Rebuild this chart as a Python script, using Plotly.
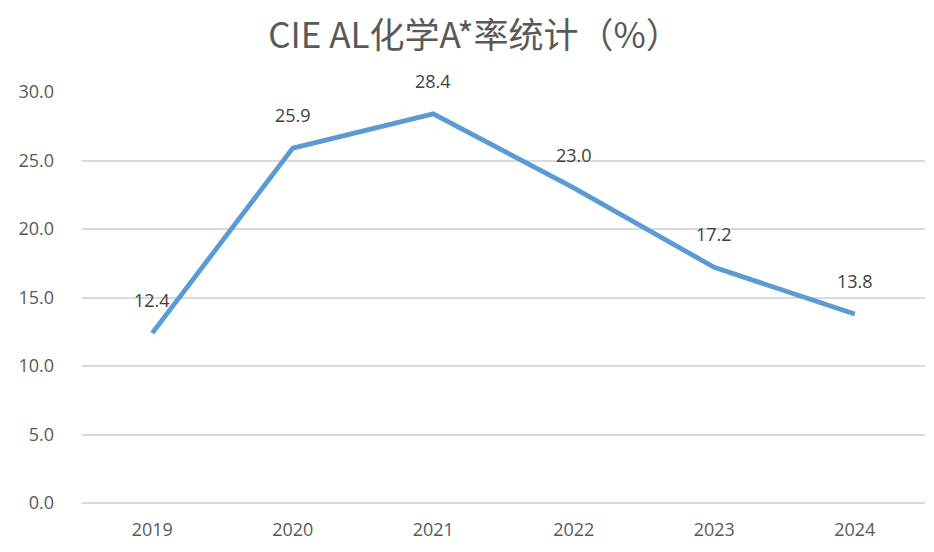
import plotly.graph_objects as go

years = ["2019", "2020", "2021", "2022", "2023", "2024"]
rates = [12.4, 25.9, 28.4, 23.0, 17.2, 13.8]
y_ticks = [0, 5, 10, 15, 20, 25, 30]
y_tick_labels = ["0.0", "5.0", "10.0", "15.0", "20.0", "25.0", "30.0"]
title_text = "CIE AL化学A*率统计（%）"

font_family = "Open Sans, Noto Sans CJK SC, sans-serif"

fig = go.Figure()
fig.add_trace(go.Scatter(
    x=years, y=rates, mode="lines",
    line=dict(color="#5B9BD5", width=4.8),
    hoverinfo="skip",
))

for i, y in enumerate(rates):
    fig.add_annotation(
        x=i, y=y, xref="x", yref="y", text=f"{y:.1f}", showarrow=False,
        yshift=33, font=dict(size=18, color="#404040", family=font_family),
    )

fig.update_layout(
    width=934, height=552,
    margin=dict(l=82, r=9, t=92, b=49),
    paper_bgcolor="white", plot_bgcolor="white",
    showlegend=False,
    title=dict(
        text=title_text, x=0.508, xanchor="center", y=0.935, yanchor="middle",
        font=dict(size=35, color="#595959", family="Noto Sans CJK SC, sans-serif"),
    ),
    font=dict(family=font_family, color="#595959"),
)
fig.update_xaxes(
    type="category", range=[-0.5, 5.5], showgrid=False, showline=False, zeroline=False,
    ticks="", tickfont=dict(size=18, color="#595959"), ticklabelstandoff=14,
)
fig.update_yaxes(
    range=[0, 30], tickvals=y_ticks, ticktext=y_tick_labels,
    showgrid=True, gridcolor="#D9D9D9", gridwidth=2,
    zeroline=True, zerolinecolor="#D9D9D9", zerolinewidth=2,
    showline=False, ticks="",
    tickfont=dict(size=18, color="#595959"), ticklabelstandoff=27,
)

fig.write_html("out.html")
